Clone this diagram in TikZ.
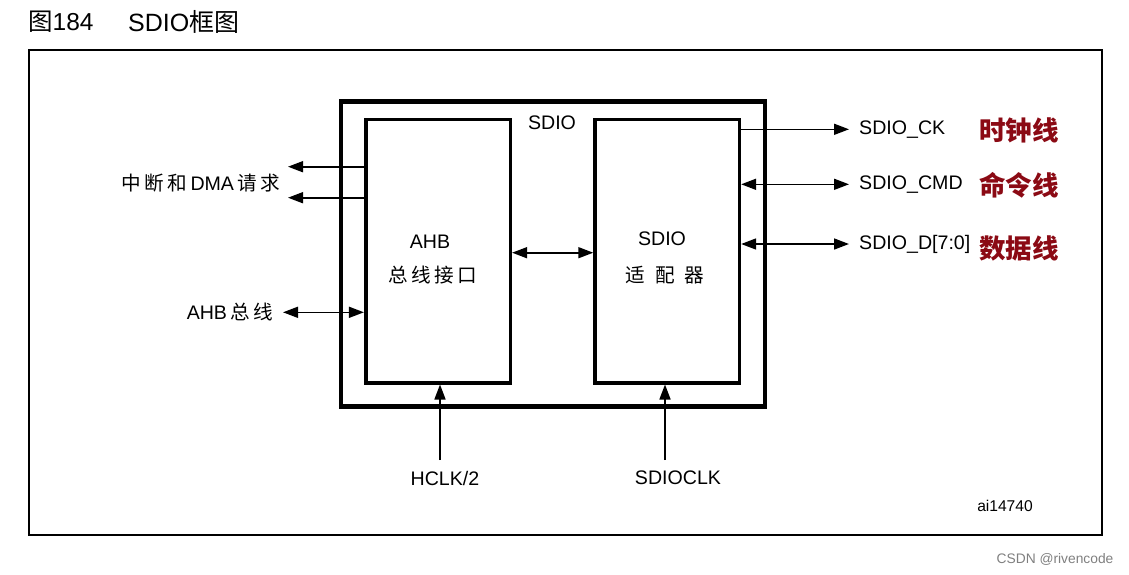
\documentclass[tikz,border=0pt]{standalone}
\usepackage{fontspec}
\setmainfont{Liberation Sans}
\newfontfamily\cjk{Noto Sans CJK SC}
\usetikzlibrary{arrows.meta}
\definecolor{labred}{HTML}{8B0A14}
\begin{document}
\begin{tikzpicture}[x=1pt,y=-1pt,
  lbl/.style={inner sep=0pt,font=\fontsize{19.6}{23}\selectfont},
  redlbl/.style={inner sep=0pt,anchor=west,text=labred,font=\fontsize{26.5}{30}\selectfont\cjk\bfseries},
  blk/.style={draw,line width=3.6pt,inner sep=0pt},
  sig/.style={line width=1.6pt,-{Triangle[length=15pt,width=11pt]}},
  bsig/.style={line width=1.6pt,{Triangle[length=15pt,width=11pt]}-{Triangle[length=15pt,width=11pt]}}]
\useasboundingbox (0,0) rectangle (1129,574);
\fill[white] (0,0) rectangle (1129,574);
% title
\node[anchor=west,inner sep=0pt,font=\fontsize{24.5}{28}\selectfont] (title) at (28,22) {{\cjk 图}184};
\node[anchor=west,inner sep=0pt,font=\fontsize{25}{28}\selectfont] (title2) at (128,22) {SDIO{\cjk 框图}};
% outer frame
\draw[line width=1.5pt] (29,50) rectangle (1102,535);
% SDIO box
\node[blk,line width=4.6pt,minimum width=424pt,minimum height=305pt] (sdio) at (553,254.2) {};
\node[lbl] (sdiot) at (552,123) {SDIO};
% inner boxes
\node[blk,minimum width=144.6pt,minimum height=263.4pt] (ahb) at (438,251) {};
\node[blk,minimum width=144.3pt,minimum height=263.4pt] (ada) at (667.2,251) {};
\node[lbl] (ahbt1) at (430,242) {AHB};
\node[lbl] (ahbt2) at (433,275) {\cjk 总\,线\,接\,口};
\node[lbl] (adat1) at (662,239) {SDIO};
\node[lbl] (adat2) at (665,275) {\cjk 适\enspace 配\enspace 器};
% middle
\draw[bsig] (ahb.east |- 0,252.7) -- (ada.west |- 0,252.7);
% left signals
\coordinate (l1) at (288,166.7);
\coordinate (l2) at (288,197.7);
\coordinate (l3) at (283,312.3);
\draw[sig] (ahb.west |- l1) -- (l1);
\draw[sig] (ahb.west |- l2) -- (l2);
\draw[bsig] (l3) -- (ahb.west |- l3);
\node[lbl,anchor=east] (irq) at (280,183) {{\cjk 中\,断\,和\,}DMA{\cjk\,请\,求}};
\node[lbl,anchor=east] (ahbbus) at (273,312) {AHB{\cjk\,总\,线}};
% right signals
\coordinate (r1) at (849,129.3);
\coordinate (r2) at (849,184.3);
\coordinate (r3) at (849,244);
\draw[sig] (ada.east |- r1) -- (r1);
\draw[bsig] (ada.east |- r2) -- (r2);
\draw[bsig] (ada.east |- r3) -- (r3);
\node[lbl,anchor=west] (ck) at (859,130) {SDIO\_CK};
\node[lbl,anchor=west] (cmd) at (859,184.5) {SDIO\_CMD};
\node[lbl,anchor=west] (dat) at (859,244) {SDIO\_D[7:0]};
\node[redlbl] (ckr) at (979,130) {时钟线};
\node[redlbl] (cmdr) at (979,185) {命令线};
\node[redlbl] (datr) at (979,248) {数据线};
% bottom clocks
\coordinate (b1) at (440,460);
\coordinate (b2) at (665,460);
\draw[sig] (b1) -- (ahb.south -| b1);
\draw[sig] (b2) -- (ada.south -| b2);
\node[lbl] (hclk) at (445,478) {HCLK/2};
\node[lbl] (sdioclk) at (678,478) {SDIOCLK};
\node[inner sep=0pt,font=\fontsize{15.6}{18}\selectfont] (ai) at (1005,506) {ai14740};
\node[inner sep=0pt,text=black!50,font=\fontsize{13.8}{16}\selectfont] (csdn) at (1055,559) {CSDN @rivencode};
\end{tikzpicture}
\end{document}
